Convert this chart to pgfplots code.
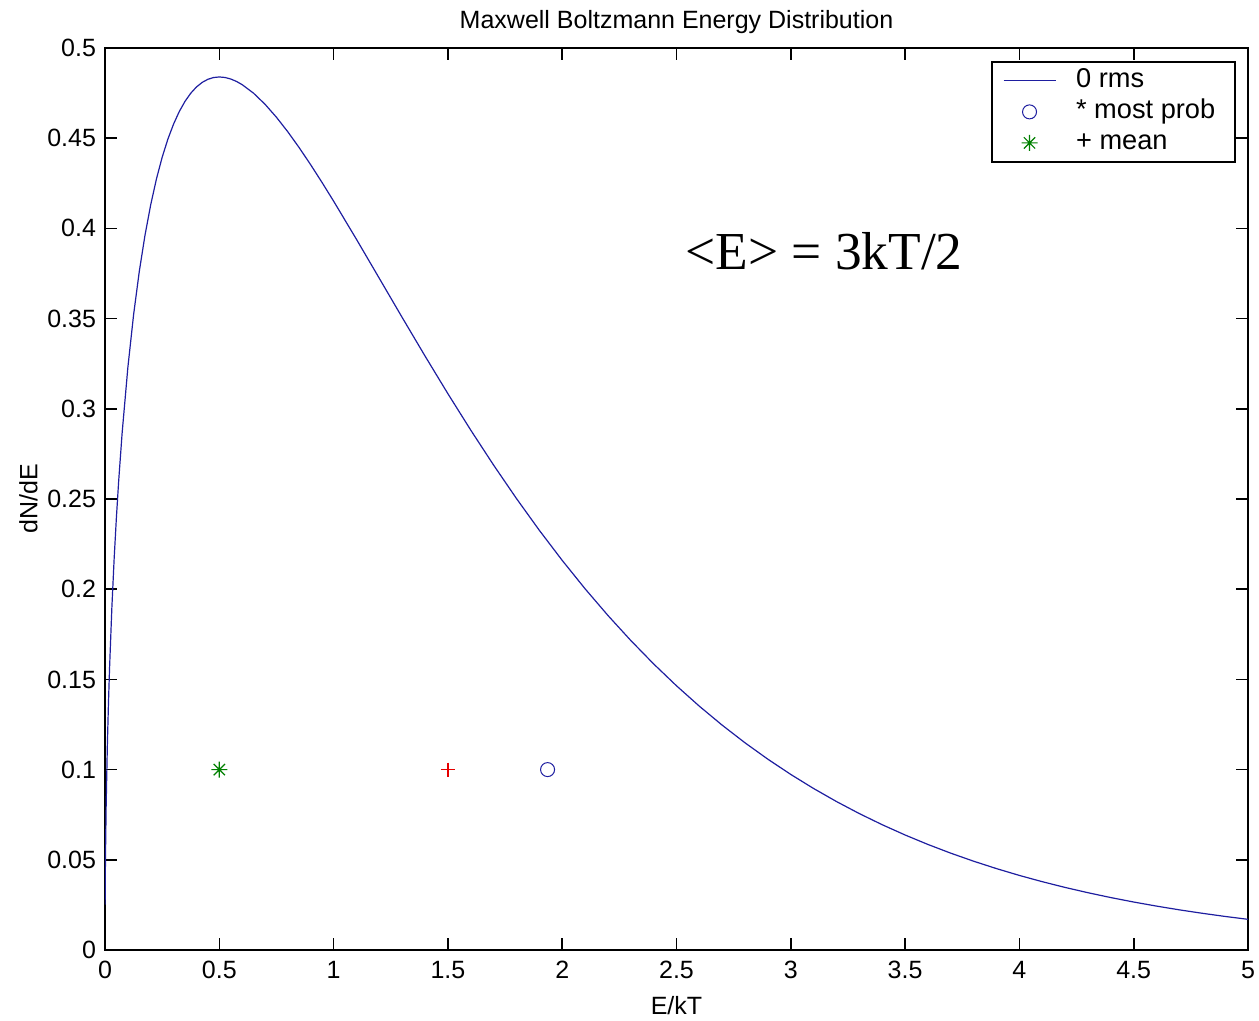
\documentclass[border=0pt]{standalone}
\usepackage{pgfplots}
\pgfplotsset{compat=1.18}
\usepackage{fontspec}
\setmainfont{Liberation Sans}
\newfontfamily\timesfont{Liberation Serif}
\definecolor{mbblue}{RGB}{30,30,160}
\definecolor{mbgreen}{RGB}{0,128,0}
\definecolor{mbred}{RGB}{230,0,0}
\pgfdeclareplotmark{ast8}{%
 \pgfpathmoveto{\pgfqpoint{-\pgfplotmarksize}{0pt}}\pgfpathlineto{\pgfqpoint{\pgfplotmarksize}{0pt}}%
 \pgfpathmoveto{\pgfqpoint{0pt}{-\pgfplotmarksize}}\pgfpathlineto{\pgfqpoint{0pt}{\pgfplotmarksize}}%
 \pgfpathmoveto{\pgfqpoint{-0.707\pgfplotmarksize}{-0.707\pgfplotmarksize}}\pgfpathlineto{\pgfqpoint{0.707\pgfplotmarksize}{0.707\pgfplotmarksize}}%
 \pgfpathmoveto{\pgfqpoint{-0.707\pgfplotmarksize}{0.707\pgfplotmarksize}}\pgfpathlineto{\pgfqpoint{0.707\pgfplotmarksize}{-0.707\pgfplotmarksize}}%
 \pgfusepathqstroke}
\begin{document}
\begin{tikzpicture}
\begin{axis}[
  scale only axis,
  width=571.5pt, height=451pt,
  xmin=0, xmax=5, ymin=0, ymax=0.5,
  xtick={0,0.5,...,5},
  ytick={0,0.05,...,0.51},
  tick align=inside,
  xtick pos=both, ytick pos=both,
  major tick length=6pt,
  axis line style={black, line width=0.8pt},
  tick style={black, line width=0.8pt},
  /pgf/number format/assume math mode=true,
  /pgf/number format/fixed,
  /pgf/number format/precision=2,
  ticklabel style={font=\fontsize{12.5}{14}\selectfont},
  xticklabel style={yshift=-2pt},
  yticklabel style={xshift=-1pt},
  xlabel={E/kT},
  ylabel={dN/dE},
  label style={font=\fontsize{12.5}{14}\selectfont},
  xlabel style={yshift=-2pt},
  ylabel style={yshift=-2pt},
  title={Maxwell Boltzmann Energy Distribution},
  title style={font=\fontsize{12.5}{14}\selectfont, yshift=-2.5pt},
  legend style={at={(axis description cs:0.9895,0.9856)}, anchor=north east,
    draw=black, line width=0.8pt, font=\fontsize{13.6}{15}\selectfont,
    inner xsep=5.5pt, inner ysep=1.9pt, row sep=0.2pt,
    nodes={text height=9.5pt, text depth=2.8pt, inner sep=1.5pt},
    /tikz/every odd column/.style={column sep=8.5pt},
    legend cell align=left},
  legend image code/.code={
    \draw[mark repeat=2, mark phase=2, #1] plot coordinates {(0pt,0pt) (13pt,0pt) (26pt,0pt)};
  },
]
\coordinate (sw) at (rel axis cs:0,0);
\coordinate (ne) at (rel axis cs:1,1);
\addplot[mbblue, line width=0.6pt, mark=none] coordinates {
(0.0005,0.02522)(0.002,0.05036)(0.005,0.07939)(0.01,0.11172)(0.015,0.13614)(0.02,0.15642)
(0.03,0.18966)(0.04,0.21683)(0.05,0.24001)(0.06,0.26030)(0.075,0.28669)(0.1,0.32287)(0.125,0.35207)(0.15,0.37615)
(0.175,0.39625)(0.2,0.41315)(0.225,0.42740)(0.25,0.43939)(0.275,0.44946)(0.3,0.45785)(0.325,0.46479)(0.35,0.47042)(0.375,0.47491)(0.4,0.47837)
(0.425,0.48092)(0.45,0.48264)(0.475,0.48363)(0.5,0.48394)(0.525,0.48365)(0.55,0.48281)(0.575,0.48147)(0.6,0.47968)(0.65,0.47492)(0.7,0.46881)
(0.75,0.46160)(0.8,0.45349)(0.85,0.44465)(0.9,0.43522)(0.95,0.42534)(1.0,0.41511)(1.1,0.39394)(1.2,0.37230)
(1.3,0.35062)(1.4,0.32924)(1.5,0.30836)(1.6,0.28817)(1.7,0.26877)
(1.8,0.25024)(1.9,0.23263)(2.0,0.21597)(2.1,0.20024)(2.2,0.18545)
(2.3,0.17157)(2.4,0.15858)(2.5,0.14645)(2.6,0.13514)(2.7,0.12461)
(2.8,0.11482)(2.9,0.10573)(3.0,0.09730)(3.1,0.08950)(3.2,0.08228)
(3.3,0.07560)(3.4,0.06944)(3.5,0.06375)(3.6,0.05850)(3.7,0.05366)
(3.8,0.04921)(3.9,0.04511)(4.0,0.04133)(4.1,0.03787)(4.2,0.03468)
(4.3,0.03175)(4.4,0.02906)(4.5,0.02659)(4.6,0.02433)(4.7,0.02225)
(4.8,0.02035)(4.9,0.01860)(5.0,0.01700)
};
\addlegendentry{0 rms}
\addplot[only marks, mbblue, mark=o, mark size=3.5pt, line width=0.5pt] coordinates {(1.936,0.1)};
\addlegendentry{* most prob\hspace*{3pt}}
\addplot[only marks, color=mbgreen, mark=ast8, mark size=4pt, mark options={line width=0.6pt}] coordinates {(0.5,0.1)};
\addlegendentry{+ mean}
\addplot[only marks, color=mbred, mark=+, mark size=3.5pt, mark options={draw=mbred, line width=0.7pt}, forget plot] coordinates {(1.5,0.1)};
\node[anchor=base west, inner sep=0pt, font=\timesfont\fontsize{26.7}{32}\selectfont] at (axis cs:2.537,0.377) {<E> = 3kT/2};
\end{axis}
\pgfresetboundingbox
\path ([shift={(-52.5pt,-35pt)}]sw) rectangle ([shift={(5.5pt,24pt)}]ne);
\end{tikzpicture}
\end{document}
